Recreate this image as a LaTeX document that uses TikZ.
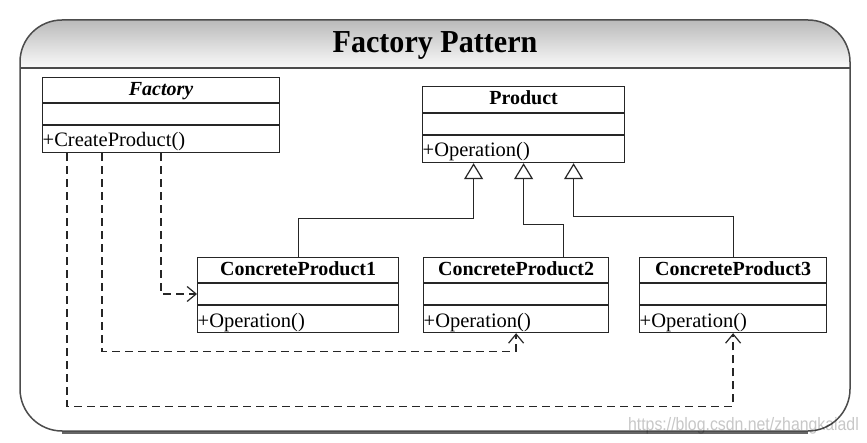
\documentclass[tikz,border=0pt]{standalone}
\usepackage{fontspec}
\setmainfont{Liberation Serif}
\newfontfamily\wmfont{Liberation Sans}
\usetikzlibrary{arrows.meta}
\begin{document}
\begin{tikzpicture}[x=1pt,y=-1pt,
  frameline/.style={draw=black!70, line width=1.5pt},
  cls/.style={draw=black!85, line width=1.2pt, fill=white, inner sep=0pt,
    anchor=north west, minimum height=75pt},
  divline/.style={draw=black!85, line width=1.2pt},
  ttl/.style={anchor=base, inner sep=0pt, font=\bfseries\fontsize{20}{24}\selectfont},
  meth/.style={anchor=base west, inner xsep=0.5pt, inner ysep=0pt, font=\fontsize{20.5}{24}\selectfont},
  inh/.style={draw=black!85, line width=1.2pt,
    -{Triangle[open, width=19pt, length=16pt, fill=white]}},
  dep/.style={draw=black!85, line width=1.3pt, dash pattern=on 8pt off 5pt,
    -{Straight Barb[length=9pt, width=15pt, line width=1.2pt]}}
]
\useasboundingbox (0,0) rectangle (867,443);
\fill[white] (0,0) rectangle (867,443);

% frame and header
\begin{scope}
  \clip[rounded corners=42pt] (20,20) rectangle (850,431);
  \shade[top color=black!27, bottom color=black!2] (20,20) rectangle (850,68);
\end{scope}
\draw[line width=2.6pt, black!60] (62,432.3) -- (808,432.3);
\draw[frameline, rounded corners=42pt] (20,20) rectangle (850,431);
\draw[frameline] (20,68) -- (850,68);
\node[inner sep=0pt, anchor=base, xscale=0.94,
  font=\bfseries\fontsize{32}{36}\selectfont] (title) at (435,53) {Factory Pattern};

% classes
\node[cls, minimum width=237pt] (fac) at (42,77) {};
\node[cls, minimum width=202pt, minimum height=76pt] (prod) at (422,86) {};
\node[cls, minimum width=201pt] (cp1) at (197,257) {};
\node[cls, minimum width=185pt] (cp2) at (423,257) {};
\node[cls, minimum width=187pt] (cp3) at (639,257) {};

\foreach \n/\a/\b in {fac/26/48, prod/27/49, cp1/26/48, cp2/26/48, cp3/26/48}{
  \draw[divline] ([yshift=-\a pt]\n.north west) -- ([yshift=-\a pt]\n.north east);
  \draw[divline] ([yshift=-\b pt]\n.north west) -- ([yshift=-\b pt]\n.north east);
}

\node[ttl, font=\bfseries\itshape\fontsize{20}{24}\selectfont] (facT) at ([yshift=-19pt]fac.north) {Factory};
\node[meth] (facM) at ([yshift=-70pt]fac.north west) {+CreateProduct()};
\node[ttl] (prodT) at ([yshift=-19pt]prod.north) {Product};
\node[meth] (prodM) at ([yshift=-71pt]prod.north west) {+Operation()};
\node[ttl] (cp1T) at ([yshift=-19pt]cp1.north) {ConcreteProduct1};
\node[meth] (cp1M) at ([yshift=-70pt]cp1.north west) {+Operation()};
\node[ttl] (cp2T) at ([yshift=-19pt]cp2.north) {ConcreteProduct2};
\node[meth] (cp2M) at ([yshift=-70pt]cp2.north west) {+Operation()};
\node[ttl] (cp3T) at ([yshift=-19pt]cp3.north) {ConcreteProduct3};
\node[meth] (cp3M) at ([yshift=-70pt]cp3.north west) {+Operation()};

% inheritance
\draw[inh] (cp1.north) |- ([xshift=-50pt,yshift=-55pt]prod.south) -- ([xshift=-50pt]prod.south);
\draw[inh] ([xshift=47.5pt]cp2.north) |- ([yshift=-61pt]prod.south) -- (prod.south);
\draw[inh] (cp3.north) |- ([xshift=50pt,yshift=-53pt]prod.south) -- ([xshift=50pt]prod.south);

% dependencies
\draw[dep] ([xshift=119pt]fac.south west) |- ([yshift=-37pt]cp1.north west);
\draw[dep] ([xshift=60pt]fac.south west) |- ([yshift=-18pt]cp2.south) -- (cp2.south);
\draw[dep] ([xshift=25pt]fac.south west) |- ([yshift=-73pt]cp3.south) -- (cp3.south);

% watermark
\node[anchor=base east, inner sep=0pt, xscale=0.88, text=black, text opacity=0.22,
  font=\wmfont\fontsize{18}{20}\selectfont] (wm) at (859,430) {https://blog.csdn.net/zhangkaiadl};
\end{tikzpicture}
\end{document}
